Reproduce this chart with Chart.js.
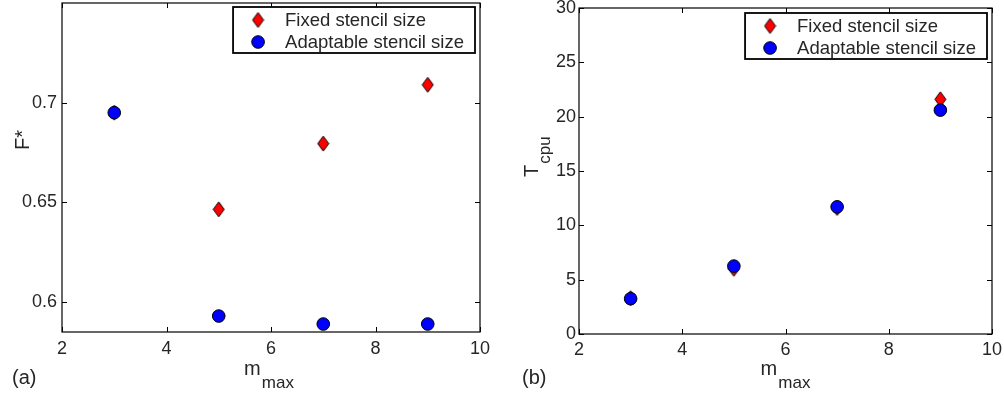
<!DOCTYPE html>
<html><head><meta charset="utf-8">
<script src="https://cdn.jsdelivr.net/npm/chart.js@4/dist/chart.umd.min.js"></script>
<style>
html,body{margin:0;padding:0;background:#fff;}
#wrap{position:relative;width:1004px;height:401px;overflow:hidden;}
.box{position:absolute;top:0;height:401px;}
#b1{left:0;width:500px;}
#b2{left:500px;width:504px;}
</style></head>
<body>
<div id="wrap">
  <div class="box" id="b1"><canvas id="c1"></canvas></div>
  <div class="box" id="b2"><canvas id="c2"></canvas></div>
</div>
<script>
// ---- data ----
const mmax = [3, 5, 7, 9];
const fStarFixed = [0.695, 0.6465, 0.6795, 0.709];
const fStarAdapt = [0.695, 0.593, 0.589, 0.589];
const tcpuFixed = [3.3, 6.0, 11.6, 21.6];
const tcpuAdapt = [3.25, 6.25, 11.7, 20.6];
const xTicks = [2, 4, 6, 8, 10];
const fTicks = [0.6, 0.65, 0.7];
const tTicks = [0, 5, 10, 15, 20, 25, 30];
const seriesNames = ['Fixed stencil size', 'Adaptable stencil size'];
const xTitle = ['m', 'max'];
const panelA = { title: ['F*', ''], tag: '(a)' };
const panelB = { title: ['T', 'cpu'], tag: '(b)' };

const FONT = '"Liberation Sans", Arial, Helvetica, sans-serif';
const TXT = '#262626';

function makeDiamond(w, h) {
  const c = document.createElement('canvas');
  c.width = w + 2; c.height = h + 2;
  const x = c.getContext('2d');
  x.beginPath();
  x.moveTo(c.width / 2, 1);
  x.lineTo(c.width - 1, c.height / 2);
  x.lineTo(c.width / 2, c.height - 1);
  x.lineTo(1, c.height / 2);
  x.closePath();
  x.fillStyle = '#ff0000'; x.fill();
  x.strokeStyle = '#000'; x.lineWidth = 1; x.stroke();
  return c;
}
const diamond = makeDiamond(11, 15);
const noPad = () => ({ left: 0, top: 0, right: 0, bottom: 0 });

const framePlugin = {
  id: 'frame',
  afterDraw(chart, args, o) {
    const ctx = chart.ctx, a = chart.chartArea;
    const xs = chart.scales.x, ys = chart.scales.y;
    ctx.save();
    ctx.strokeStyle = '#000';
    ctx.lineWidth = 1.2;
    ctx.strokeRect(a.left, a.top, a.right - a.left, a.bottom - a.top);
    const tl = 5;
    ctx.beginPath();
    xs.ticks.forEach(t => {
      const px = Math.round(xs.getPixelForValue(t.value)) + 0.5;
      ctx.moveTo(px, a.bottom); ctx.lineTo(px, a.bottom - tl);
      ctx.moveTo(px, a.top); ctx.lineTo(px, a.top + tl);
    });
    ys.ticks.forEach(t => {
      const py = Math.round(ys.getPixelForValue(t.value)) + 0.5;
      ctx.moveTo(a.left, py); ctx.lineTo(a.left + tl, py);
      ctx.moveTo(a.right, py); ctx.lineTo(a.right - tl, py);
    });
    ctx.lineWidth = 1;
    ctx.stroke();

    // legend
    const ds = chart.data.datasets;
    ctx.font = '18.5px ' + FONT;
    let tw = 0;
    ds.forEach(d => { tw = Math.max(tw, ctx.measureText(d.label).width); });
    const bw = 52 + tw + 11, bh = 46;
    const bx = a.right - 5 - bw, by = o.legY;
    ctx.fillStyle = '#fff';
    ctx.fillRect(bx, by, bw, bh);
    ctx.lineWidth = 1.8;
    ctx.strokeStyle = '#000';
    ctx.strokeRect(bx, by, bw, bh);
    ds.forEach((d, i) => {
      const cy = by + 13 + i * 22;
      const mx = bx + 25;
      if (d.pointStyle === 'circle') {
        ctx.beginPath(); ctx.arc(mx, cy, d.pointRadius, 0, Math.PI * 2);
        ctx.fillStyle = d.backgroundColor; ctx.fill();
        ctx.lineWidth = d.borderWidth; ctx.strokeStyle = d.borderColor; ctx.stroke();
      } else {
        ctx.drawImage(d.pointStyle, mx - d.pointStyle.width / 2, cy - d.pointStyle.height / 2);
      }
      ctx.fillStyle = TXT;
      ctx.textBaseline = 'middle';
      ctx.textAlign = 'left';
      ctx.fillText(d.label, bx + 52, cy + 1);
    });

    // axis titles
    ctx.fillStyle = TXT;
    ctx.textBaseline = 'alphabetic';
    ctx.textAlign = 'left';
    ctx.font = '20px ' + FONT;
    const mw = ctx.measureText(xTitle[0]).width;
    ctx.font = '17px ' + FONT;
    const sw = ctx.measureText(xTitle[1]).width;
    const cx = (a.left + a.right) / 2 + o.xtShift;
    const x0 = cx - (mw + sw + 1) / 2;
    ctx.font = '20px ' + FONT;
    ctx.fillText(xTitle[0], x0, 375);
    ctx.font = '17px ' + FONT;
    ctx.fillText(xTitle[1], x0 + mw + 1, 388);

    // y title (rotated)
    const yt = o.ytitle;
    ctx.save();
    ctx.translate(o.ytX, o.ytY);
    ctx.rotate(-Math.PI / 2);
    ctx.font = '20px ' + FONT;
    ctx.fillText(yt[0], 0, 0);
    if (yt[1]) {
      const w0 = ctx.measureText(yt[0]).width;
      ctx.font = '17px ' + FONT;
      ctx.fillText(yt[1], w0 + 1, 12);
    }
    ctx.restore();

    // panel tag
    ctx.font = '20px ' + FONT;
    ctx.fillText(o.tag, o.tagX, 384);
    ctx.restore();
  }
};

function makeChart(id, fixed, adapt, yMin, yMax, yT, cfg) {
  const fixedPts = mmax.map((m, i) => ({ x: m, y: fixed[i] }));
  const adaptPts = mmax.map((m, i) => ({ x: m, y: adapt[i] }));
  return new Chart(document.getElementById(id), {
    type: 'scatter',
    data: {
      datasets: [
        { label: seriesNames[0], data: fixedPts, pointStyle: diamond, pointRadius: 8,
          backgroundColor: '#ff0000', borderColor: '#000', borderWidth: 1, order: 2, clip: false },
        { label: seriesNames[1], data: adaptPts, pointStyle: 'circle', pointRadius: 6.3,
          backgroundColor: '#0000ff', borderColor: '#000', borderWidth: 1, order: 1, clip: false }
      ]
    },
    options: {
      responsive: true, maintainAspectRatio: false, animation: false,
      devicePixelRatio: 1,
      layout: { autoPadding: false, padding: { left: 0, right: cfg.padRight, top: cfg.padTop, bottom: 0 } },
      plugins: {
        legend: { display: false }, tooltip: { enabled: false },
        frame: { legY: cfg.legY, ytitle: cfg.ytitle, ytX: cfg.ytX, ytY: cfg.ytY,
                 tag: cfg.tag, tagX: cfg.tagX, xtShift: cfg.xtShift }
      },
      scales: {
        x: {
          type: 'linear', min: 2, max: 10,
          grid: { display: false, drawTicks: false },
          border: { display: false },
          afterBuildTicks: s => { s.ticks = xTicks.map(v => ({ value: v })); },
          afterFit: s => { s.height = cfg.xH; s.paddingLeft = 0; s.paddingRight = 0; s.getPadding = noPad; },
          ticks: { padding: cfg.xPad, color: TXT, font: { family: FONT, size: 18 }, maxRotation: 0, autoSkip: false,
                   callback: v => String(v) }
        },
        y: {
          type: 'linear', min: yMin, max: yMax,
          grid: { display: false, drawTicks: false },
          border: { display: false },
          afterBuildTicks: s => { s.ticks = yT.map(v => ({ value: v })); },
          afterFit: s => { s.width = cfg.yW; s.paddingTop = 0; s.paddingBottom = 0; s.getPadding = noPad; },
          ticks: { padding: cfg.yPad, color: TXT, font: { family: FONT, size: 18 }, autoSkip: false,
                   callback: v => String(v) }
        }
      }
    },
    plugins: [framePlugin]
  });
}

makeChart('c1', fStarFixed, fStarAdapt, 0.585, 0.75, fTicks,
  { padRight: 20, padTop: 3, xH: 69, yW: 62, xPad: 6, yPad: 5, legY: 7,
    ytitle: panelA.title, ytX: 29, ytY: 150, tag: panelA.tag, tagX: 12, xtShift: -2 });
makeChart('c2', tcpuFixed, tcpuAdapt, 0, 30, tTicks,
  { padRight: 12, padTop: 8, xH: 67, yW: 79, xPad: 5, yPad: 3, legY: 13,
    ytitle: panelB.title, ytX: 38, ytY: 177, tag: panelB.tag, tagX: 22, xtShift: -0 });
</script>
</body></html>
